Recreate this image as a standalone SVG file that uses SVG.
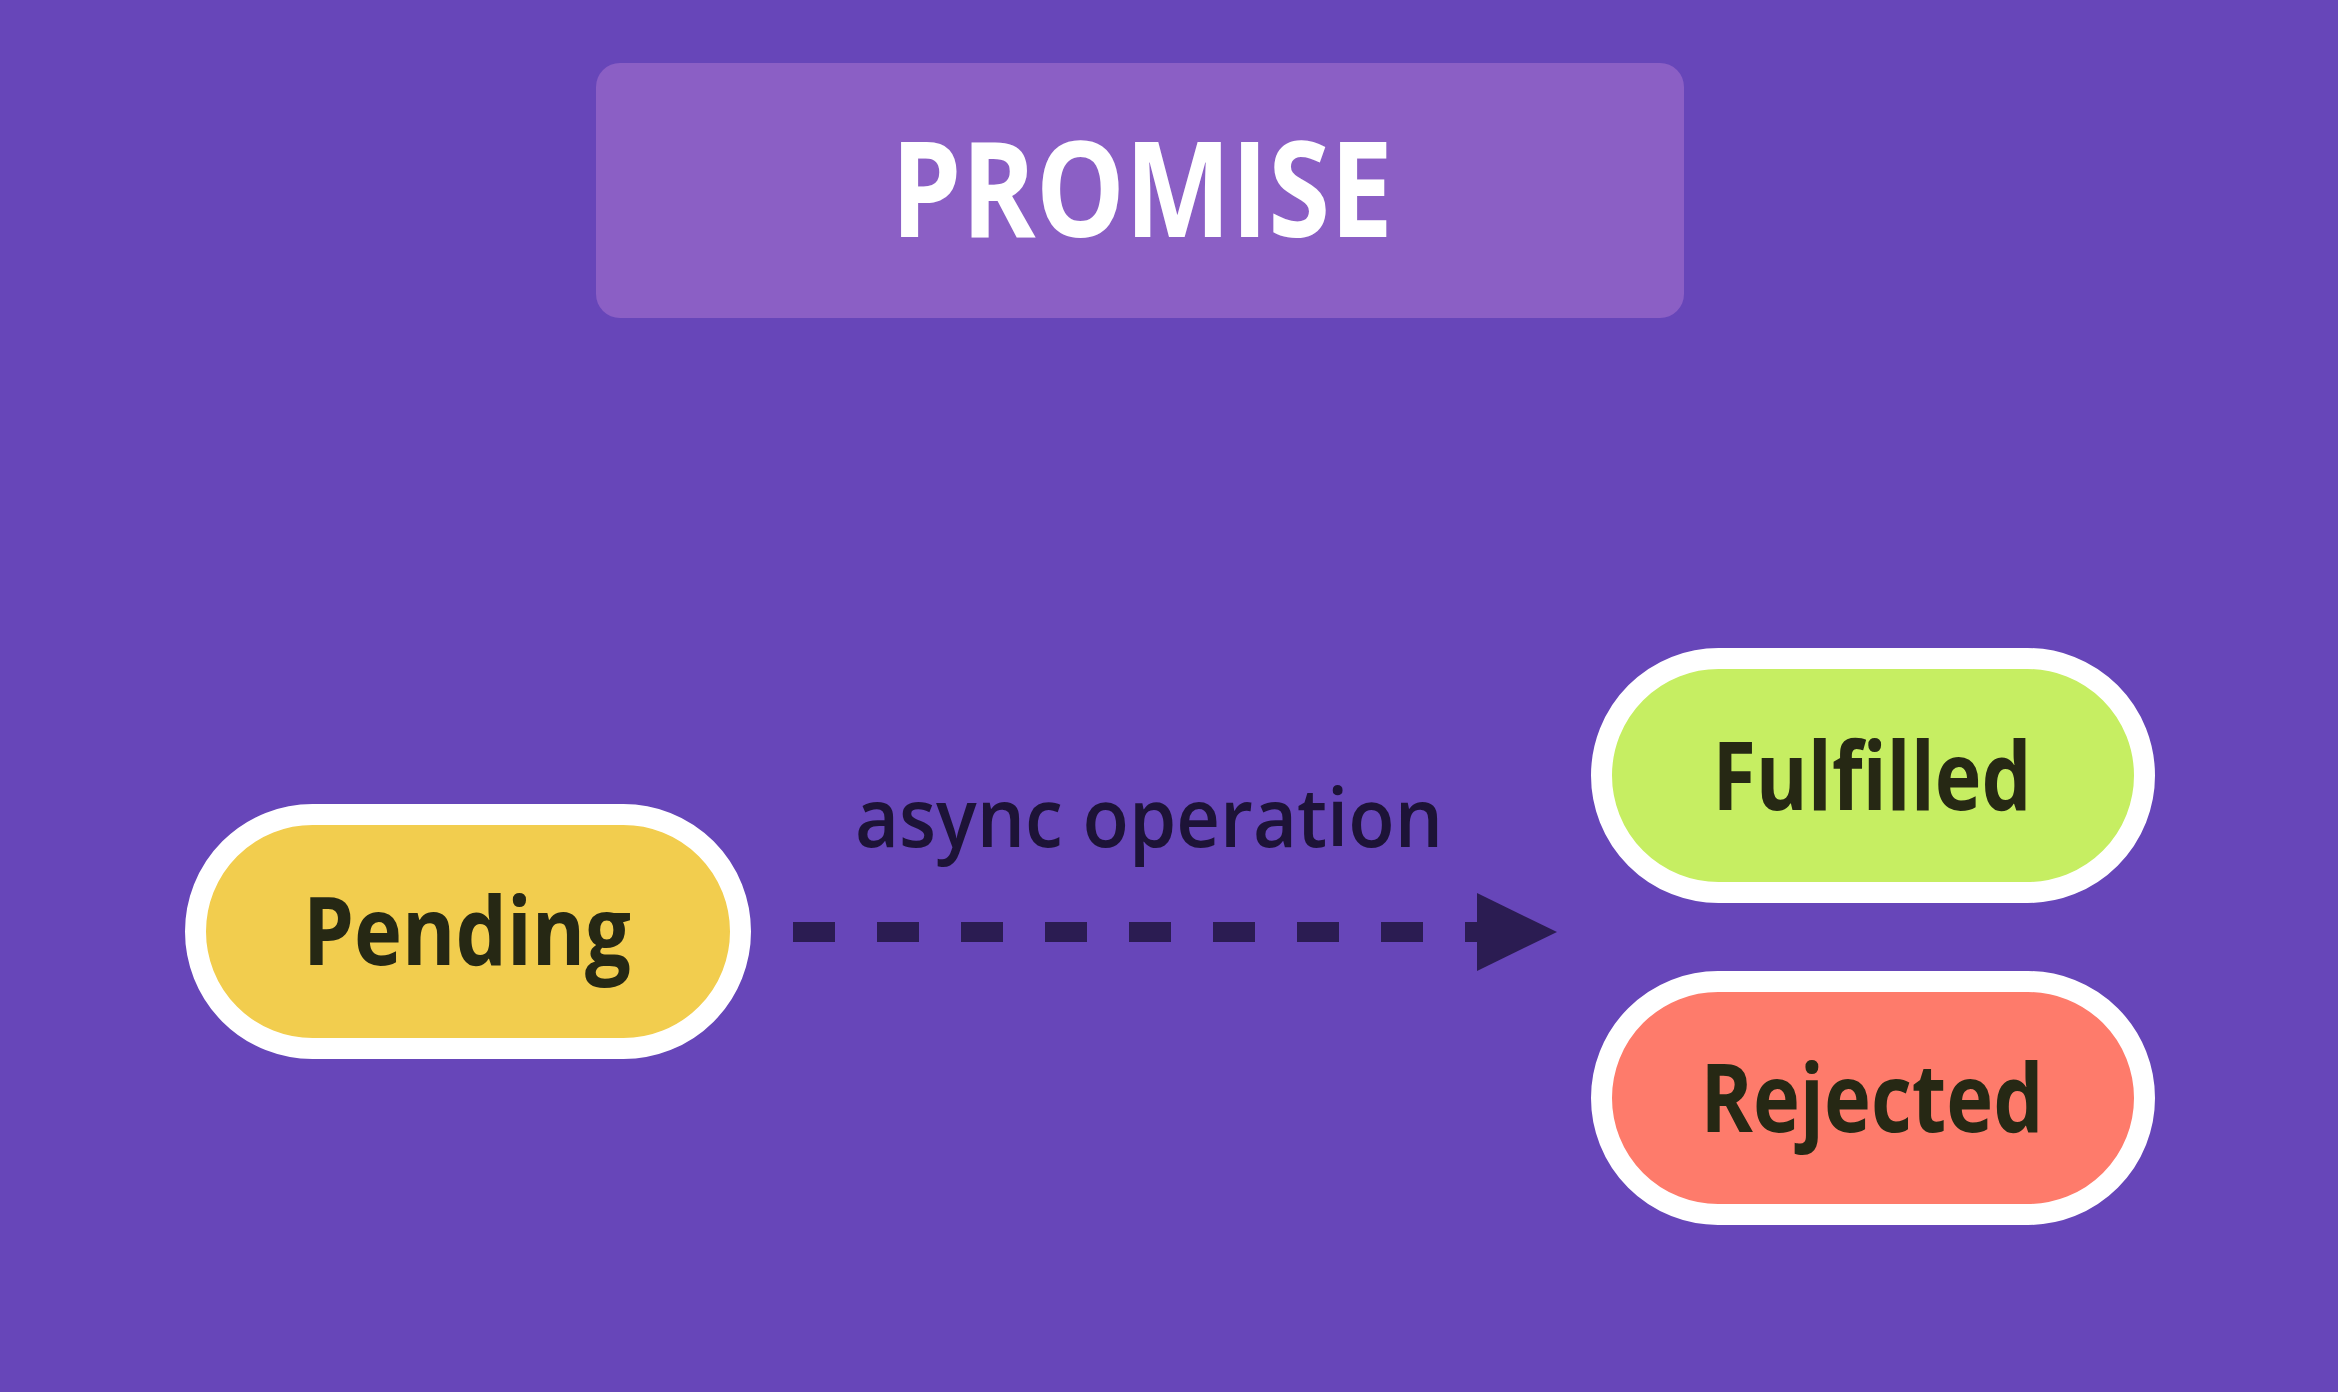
<svg xmlns="http://www.w3.org/2000/svg" width="2338" height="1392" viewBox="0 0 2338 1392">
  <defs>
    <style>
      .state { stroke: #ffffff; stroke-width: 21; }
      .label { font-family: "Open Sans", "Noto Sans", "Liberation Sans", sans-serif; font-weight: 700; font-size: 95px; fill: #262814; text-anchor: middle; }
      .title { font-family: "Open Sans", "Noto Sans", "Liberation Sans", sans-serif; font-weight: 700; font-size: 132px; fill: #ffffff; text-anchor: middle; }
      .edge-label { font-family: "Open Sans", "Noto Sans", "Liberation Sans", sans-serif; font-weight: 600; font-size: 82px; fill: #1d1337; text-anchor: middle; }
      .dash { stroke: #2b1c52; stroke-width: 20; stroke-dasharray: 42 42; fill: none; }
    </style>
  </defs>

  <!-- background -->
  <rect x="0" y="0" width="2338" height="1392" fill="#6746b9"/>

  <!-- heading -->
  <g id="title">
    <rect x="596" y="63" width="1088" height="255" rx="24" ry="24" fill="#8b5fc5"/>
    <text class="title" x="1142" y="237" textLength="502" lengthAdjust="spacingAndGlyphs">PROMISE</text>
  </g>

  <!-- connector: pending -> settled -->
  <g id="connectors">
    <line class="dash" x1="793" y1="932" x2="1487" y2="932"/>
    <polygon points="1477,893 1557,932 1477,971" fill="#2b1c52"/>
    <text class="edge-label" x="1149" y="847" textLength="588" lengthAdjust="spacingAndGlyphs">async operation</text>
  </g>

  <!-- states -->
  <g id="pending">
    <rect class="state" x="195.5" y="814.5" width="545" height="234" rx="117" ry="117" fill="#f2cd4e"/>
    <text class="label" x="467" y="965" textLength="328" lengthAdjust="spacingAndGlyphs">Pending</text>
  </g>

  <g id="fulfilled">
    <rect class="state" x="1601.5" y="658.5" width="543" height="234" rx="117" ry="117" fill="#c6ee62"/>
    <text class="label" x="1872" y="810" textLength="319" lengthAdjust="spacingAndGlyphs">Fulfilled</text>
  </g>

  <g id="rejected">
    <rect class="state" x="1601.5" y="981.5" width="543" height="233" rx="116.5" ry="116.5" fill="#fe7b6b"/>
    <text class="label" x="1872" y="1132" textLength="343" lengthAdjust="spacingAndGlyphs">Rejected</text>
  </g>
</svg>
